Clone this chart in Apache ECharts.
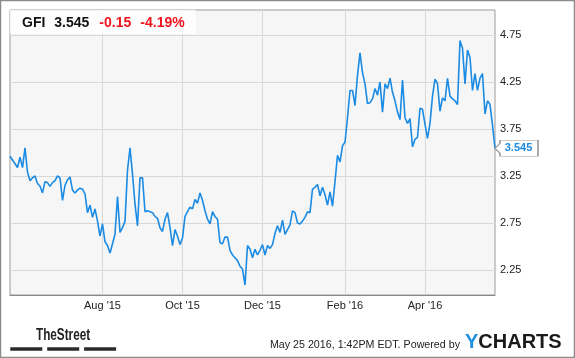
<!DOCTYPE html>
<html><head><meta charset="utf-8">
<script src="https://cdn.jsdelivr.net/npm/echarts@6/dist/echarts.min.js"></script>
<style>html,body{margin:0;padding:0;background:#fff}#c{width:575px;height:358px}</style>
</head><body><div id="c"></div>
<script>
// Daily-ish closing prices (left to right)
const values = [
3.46,3.42,3.38,3.34,3.45,3.34,3.55,3.29,3.20,3.23,
3.25,3.17,3.14,3.07,3.19,3.18,3.14,3.18,3.20,3.25,
3.23,2.99,3.15,3.21,3.24,3.10,3.07,3.10,3.12,3.11,
3.06,2.86,2.94,2.81,2.90,2.77,2.61,2.74,2.55,2.51,
2.43,2.53,2.63,3.03,2.65,2.70,2.77,3.31,3.55,3.27,
2.95,2.72,3.23,3.23,2.87,2.88,2.87,2.86,2.82,2.80,
2.70,2.66,2.79,2.86,2.70,2.51,2.68,2.61,2.52,2.59,
2.82,2.87,2.92,2.90,3.00,2.96,3.07,2.99,2.88,2.79,
2.74,2.87,2.82,2.79,2.54,2.53,2.60,2.60,2.46,2.41,
2.38,2.35,2.29,2.26,2.09,2.51,2.47,2.38,2.47,2.41,
2.46,2.52,2.41,2.51,2.48,2.52,2.64,2.72,2.65,2.78,
2.63,2.68,2.73,2.88,2.86,2.75,2.74,2.77,2.81,2.87,
2.86,3.11,3.13,3.16,3.04,3.13,3.05,2.94,3.08,2.93,
3.19,3.47,3.40,3.57,3.61,3.87,4.16,4.16,4.00,4.32,
4.56,4.35,4.23,4.02,4.03,4.07,4.18,4.11,4.25,3.93,
4.23,4.18,4.29,4.14,4.05,3.93,3.85,4.27,3.87,3.81,
3.86,3.56,3.64,3.66,3.97,3.96,3.80,3.65,3.81,4.10,
4.28,4.23,3.94,4.08,4.05,4.29,4.10,4.07,4.05,4.01,
4.69,4.61,4.23,4.59,4.51,4.16,4.34,4.16,4.29,4.34,
3.91,4.05,4.01,3.79,3.545
];
const categories = values.map((v, i) => String(i));
const tickIndex = [37, 69, 101, 134, 166];
const tickLabels = ["Aug '15", "Oct '15", "Dec '15", "Feb '16", "Apr '16"];
const yTicks = [2.25, 2.75, 3.25, 3.75, 4.25, 4.75];
const ticker = 'GFI', price = '3.545', change = '-0.15', changePct = '-4.19%';
const stamp = 'May 25 2016, 1:42PM EDT. Powered by';

const FONT = '"Liberation Sans", Arial, sans-serif';
const BLUE = '#1b8be3';
const isTick = (i) => tickIndex.indexOf(i) >= 0;
const chart = echarts.init(document.getElementById('c'), null, {renderer: 'canvas'});
chart.setOption({
  animation: false,
  textStyle: {fontFamily: FONT},
  title: {
    left: 10, top: 10, padding: [5, 11, 3, 12],
    backgroundColor: 'rgba(255,255,255,0.8)',
    text: `{a|${ticker}}{b|${price}}{c|${change}}{d|${changePct}}`,
    textStyle: {
      fontSize: 14, fontWeight: 'bold', lineHeight: 16,
      rich: {
        a: {fontSize: 14, fontWeight: 'bold', color: '#111', fontFamily: FONT, width: 32.3, lineHeight: 16},
        b: {fontSize: 14, fontWeight: 'bold', color: '#111', fontFamily: FONT, width: 45, lineHeight: 16},
        c: {fontSize: 14, fontWeight: 'bold', color: '#f0141e', fontFamily: FONT, width: 41, lineHeight: 16},
        d: {fontSize: 14, fontWeight: 'bold', color: '#f0141e', fontFamily: FONT, lineHeight: 16}
      }
    }
  },
  grid: {left: 10, top: 10, right: 80, bottom: 63, show: true, backgroundColor: '#f6f6f6', borderColor: '#9a9a9a', borderWidth: 1},
  xAxis: {
    type: 'category', data: categories, boundaryGap: false,
    axisLine: {show: true, lineStyle: {color: '#888'}},
    axisTick: {show: false, interval: (i) => isTick(i)},
    axisLabel: {interval: (i) => isTick(i), formatter: (v, i) => tickLabels[tickIndex.indexOf(i)] || '', color: '#222', fontSize: 11, margin: 5},
    splitLine: {show: true, interval: (i) => isTick(i), lineStyle: {color: '#d8d8d8', width: 1}}
  },
  yAxis: {
    type: 'value', position: 'right', min: 1.984, max: 5.016,
    axisLine: {show: false},
    axisTick: {show: false, customValues: yTicks},
    axisLabel: {customValues: yTicks, formatter: (v) => v.toFixed(2), color: '#222', fontSize: 11, margin: 5},
    splitLine: {show: true, lineStyle: {color: '#d8d8d8', width: 1}}
  },
  series: [{
    type: 'line', data: values, showSymbol: false, symbol: 'none',
    lineStyle: {color: BLUE, width: 1.6}, itemStyle: {color: BLUE},
    markPoint: {
      symbol: 'path://M0,8L5,3L5,0L43,0L43,16L5,16L5,13Z',
      symbolSize: [43, 16], symbolOffset: ['50%', 0],
      itemStyle: {color: '#fff', borderColor: '#9a9a9a', borderWidth: 1},
      label: {show: true, position: 'inside', formatter: () => price, color: BLUE, fontWeight: 'bold', fontSize: 11, fontFamily: FONT, offset: [2, 0]},
      data: [{coord: [categories[categories.length - 1], values[values.length - 1]]}]
    }
  }],
  graphic: [
    {type: 'rect', silent: true, z: 100, shape: {x: 0.5, y: 0.5, width: 574, height: 357}, style: {fill: 'none', stroke: '#8c8c8c', lineWidth: 1.5}},
    {type: 'text', silent: true, x: 36, y: 335.5, scaleX: 0.69, style: {text: 'TheStreet', fontSize: 17, fontWeight: 'bold', fontFamily: FONT, fill: '#222', verticalAlign: 'middle'}},
    {type: 'rect', silent: true, shape: {x: 10.3, y: 347.3, width: 32, height: 3.4}, style: {fill: '#2a2a2a'}},
    {type: 'rect', silent: true, shape: {x: 47.2, y: 347.3, width: 32, height: 3.4}, style: {fill: '#2a2a2a'}},
    {type: 'rect', silent: true, shape: {x: 84.1, y: 347.3, width: 32, height: 3.4}, style: {fill: '#2a2a2a'}},
    {type: 'text', silent: true, x: 460, y: 345.5, style: {text: stamp, align: 'right', verticalAlign: 'middle', fontSize: 10.7, fontFamily: FONT, fill: '#222'}},
    {type: 'text', silent: true, x: 465, y: 342, style: {text: '{y|Y}{c|CHARTS}', verticalAlign: 'middle', rich: {
      y: {fill: '#1e8fe1', fontSize: 20, fontWeight: 'bold', fontFamily: FONT},
      c: {fill: '#1a1a1a', fontSize: 20, fontWeight: 'bold', fontFamily: FONT}
    }}}
  ]
});
</script>
</body></html>
